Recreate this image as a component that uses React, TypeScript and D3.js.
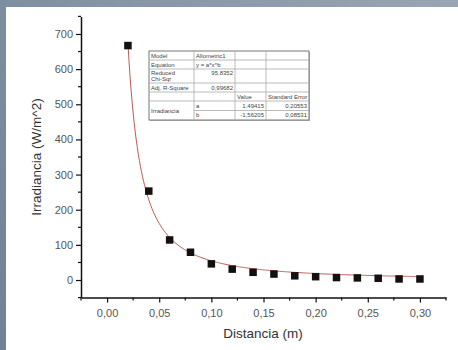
import React, { useEffect, useRef } from 'react';
import * as d3 from 'd3';

// measured points
const distancia = [0.02, 0.04, 0.06, 0.08, 0.10, 0.12, 0.14, 0.16, 0.18, 0.20, 0.22, 0.24, 0.26, 0.28, 0.30];
const irradiancia = [667, 253, 114, 79, 46, 31, 22, 17, 12, 9.5, 7, 6, 5, 3, 3];

// Allometric1 fit parameters (from the table)
const fitA = 1.49415;
const fitB = -1.56205;

const xTicks = [0, 0.05, 0.10, 0.15, 0.20, 0.25, 0.30];
const yTicks = [0, 100, 200, 300, 400, 500, 600, 700];

const tableRows: string[][] = [
  ['Model', 'Allometric1', '', ''],
  ['Equation', 'y = a*x^b', '', ''],
  ['Reduced|Chi-Sqr', '95,8352', '', ''],
  ['Adj. R-Square', '0,99682', '', ''],
  ['', '', 'Value', 'Standard Error'],
  ['Irradiancia', 'a', '1,49415', '0,20553'],
  ['', 'b', '-1,56205', '0,08531'],
];

const W = 458;
const H = 350;

const App: React.FC = () => {
  const svgRef = useRef<SVGSVGElement>(null);

  useEffect(() => {
    document.body.style.margin = '0';
    const svg = d3.select(svgRef.current);
    svg.selectAll('*').remove();

    const font = '"Liberation Sans", Arial, sans-serif';

    // photographed frame
    const defs = svg.append('defs');
    const gTop = defs.append('linearGradient').attr('id', 'bandTop');
    gTop.append('stop').attr('offset', '0%').attr('stop-color', '#7f8fa2');
    gTop.append('stop').attr('offset', '100%').attr('stop-color', '#9aa5b4');
    const gLeft = defs.append('linearGradient').attr('id', 'bandLeft').attr('x1', 0).attr('y1', 0).attr('x2', 0).attr('y2', 1);
    gLeft.append('stop').attr('offset', '0%').attr('stop-color', '#7d8ea1');
    gLeft.append('stop').attr('offset', '100%').attr('stop-color', '#6f8296');

    svg.append('rect').attr('width', W).attr('height', H).attr('fill', '#fff');
    svg.append('rect').attr('width', W).attr('height', 7).attr('fill', 'url(#bandTop)');
    svg.append('rect').attr('width', 6).attr('height', H).attr('fill', 'url(#bandLeft)');

    const x = d3.scaleLinear().domain([-0.025, 0.325]).range([81, 446]);
    const y = d3.scaleLinear().domain([-50, 750]).range([297.6, 16.4]);

    // x axis
    const xAxis = d3.axisBottom(x)
      .tickValues(xTicks)
      .tickSize(5)
      .tickSizeOuter(0)
      .tickFormat((d) => d3.format('.2f')(d as number).replace('.', ','));
    const gx = svg.append('g').attr('transform', `translate(0,${y(-50)})`).call(xAxis);
    gx.select('.domain').attr('stroke', '#111').attr('stroke-width', 1.5);
    gx.selectAll('.tick line').attr('stroke', '#111').attr('stroke-width', 1.2);
    gx.selectAll('.tick text').attr('font-family', font).attr('font-size', 11).attr('fill', '#555').attr('dy', '1.0em');
    const xMinor = d3.range(-0.025, 0.33, 0.05);
    gx.selectAll('.minor').data(xMinor).enter().append('line')
      .attr('x1', (d) => x(d)).attr('x2', (d) => x(d)).attr('y1', 0).attr('y2', 3)
      .attr('stroke', '#111').attr('stroke-width', 1.2);

    // y axis
    const yAxis = d3.axisLeft(y)
      .tickValues(yTicks)
      .tickSize(5)
      .tickSizeOuter(0)
      .tickFormat(d3.format('d'));
    const gy = svg.append('g').attr('transform', `translate(${x(-0.025)},0)`).call(yAxis);
    gy.select('.domain').attr('stroke', '#111').attr('stroke-width', 1.5);
    gy.selectAll('.tick line').attr('stroke', '#111').attr('stroke-width', 1.2);
    gy.selectAll('.tick text').attr('font-family', font).attr('font-size', 11).attr('fill', '#555').attr('x', -8);
    const yMinor = d3.range(-50, 751, 100);
    gy.selectAll('.minor').data(yMinor).enter().append('line')
      .attr('x1', -3).attr('x2', 0).attr('y1', (d) => y(d)).attr('y2', (d) => y(d))
      .attr('stroke', '#111').attr('stroke-width', 1.2);

    // axis titles
    svg.append('text')
      .attr('x', 263).attr('y', 338)
      .attr('text-anchor', 'middle')
      .attr('font-family', font).attr('font-size', 13.5).attr('fill', '#333')
      .text('Distancia (m)');
    svg.append('text')
      .attr('transform', `translate(41,157) rotate(-90)`)
      .attr('text-anchor', 'middle')
      .attr('font-family', font).attr('font-size', 13.5).attr('fill', '#333')
      .text('Irradiancia (W/m^2)');

    // fitted curve
    const fitXs = d3.range(0.02, 0.3001, 0.001);
    const line = d3.line<number>()
      .x((d) => x(d))
      .y((d) => y(fitA * Math.pow(d, fitB)))
      .curve(d3.curveLinear);
    svg.append('path')
      .datum(fitXs)
      .attr('d', line)
      .attr('fill', 'none')
      .attr('stroke', '#bf5a57')
      .attr('stroke-width', 1);

    // points
    const pts = distancia.map((d, i) => ({ x: d, y: irradiancia[i] }));
    svg.selectAll('.pt').data(pts).enter().append('rect')
      .attr('x', (d) => x(d.x) - 3.75)
      .attr('y', (d) => y(d.y) - 3.75)
      .attr('width', 7.5).attr('height', 7.5)
      .attr('fill', '#141010');

    // fit table
    const colX = [149, 194, 235, 266, 309];
    const rowY = [51, 60, 69, 83, 92, 101, 110.5, 120];
    const tbl = svg.append('g');
    tbl.append('rect')
      .attr('x', colX[0] + 1).attr('y', rowY[0] + 1)
      .attr('width', colX[4] - colX[0]).attr('height', rowY[7] - rowY[0])
      .attr('fill', '#bbb');
    tbl.append('rect')
      .attr('x', colX[0]).attr('y', rowY[0])
      .attr('width', colX[4] - colX[0]).attr('height', rowY[7] - rowY[0])
      .attr('fill', '#fff').attr('stroke', '#777').attr('stroke-width', 1);
    // horizontal lines
    rowY.slice(1, 7).forEach((ry, i) => {
      const startX = i === 5 ? colX[1] : colX[0];
      tbl.append('line').attr('x1', startX).attr('x2', colX[4]).attr('y1', ry).attr('y2', ry)
        .attr('stroke', '#aaa').attr('stroke-width', 0.8);
    });
    colX.slice(1, 4).forEach((cx) => {
      tbl.append('line').attr('x1', cx).attr('x2', cx).attr('y1', rowY[0]).attr('y2', rowY[7])
        .attr('stroke', '#aaa').attr('stroke-width', 0.8);
    });
    const fs = 6;
    tableRows.forEach((row, r) => {
      row.forEach((cell, c) => {
        if (!cell) return;
        const rightAlign = (c === 1 && (r === 2 || r === 3)) || (c >= 2 && r >= 5);
        const lines = cell.split('|');
        let cy = (rowY[r] + rowY[r + 1]) / 2 + 2;
        if (r === 5 && c === 0) cy = (rowY[5] + rowY[7]) / 2 + 2;
        if (lines.length > 1) cy = rowY[r] + 6;
        if (r === 2 && c === 1) cy = rowY[r] + 6;
        lines.forEach((ln, k) => {
          tbl.append('text')
            .attr('x', rightAlign ? colX[c + 1] - 2 : colX[c] + 2)
            .attr('y', cy + k * 6)
            .attr('text-anchor', rightAlign ? 'end' : 'start')
            .attr('font-family', font).attr('font-size', fs).attr('fill', '#444')
            .text(ln);
        });
      });
    });
  }, []);

  return <svg ref={svgRef} width={W} height={H} style={{ display: 'block' }} />;
};

export default App;
